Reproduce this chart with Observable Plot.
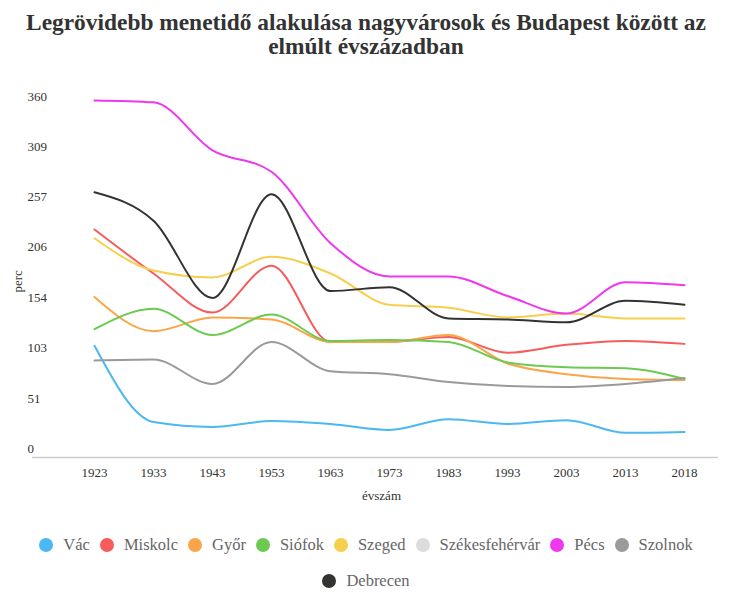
<!DOCTYPE html>
<html>
<head>
<meta charset="utf-8">
<script src="https://cdn.jsdelivr.net/npm/d3@7"></script>
<script src="https://cdn.jsdelivr.net/npm/@observablehq/plot@0.6"></script>
<style>
  body { margin: 0; background: #fff; width: 732px; font-family: "Liberation Serif", "DejaVu Serif", serif; }
  #title { text-align: center; font-family: "Liberation Serif", "DejaVu Serif", serif; font-weight: bold; font-size: 23.4px; line-height: 24px; color: #333; padding-top: 10px; height: 50px; }
  #chart { margin-top: 10px; height: 440px; }
  #chart svg { display: block; }
  #legend { margin-top: 17px; }
  .legend-row { display: flex; justify-content: center; align-items: center; height: 36px; font-size: 16.5px; color: #666; font-family: "Liberation Serif", "DejaVu Serif", serif; }
  .item { display: flex; align-items: center; margin: 0 5px; }
  .dot { width: 14px; height: 14px; border-radius: 50%; margin-right: 10px; }
</style>
</head>
<body>
<div id="title">Legrövidebb menetidő alakulása nagyvárosok és Budapest között az<br>elmúlt évszázadban</div>
<div id="chart"></div>
<div id="legend"></div>
<script>
const years = ["1923","1933","1943","1953","1963","1973","1983","1993","2003","2013","2018"];
const cities = ["Vác","Miskolc","Győr","Siófok","Szeged","Székesfehérvár","Pécs","Szolnok","Debrecen"];
const colors = ["#4bb8f2","#f65c5c","#f9a64a","#6dca50","#f6cf4c","#dcdcdc","#ee38ee","#9a9a9a","#333331"];
const yTicks = [0,51,103,154,206,257,309,360];

const vac      = [105, 27, 22, 28, 25, 19, 30, 25, 29, 16, 17];
const miskolc  = [224, 179, 139, 187, 109, 109, 114, 98, 106, 110, 107];
const gyor     = [155, 120, 134, 132, 109, 109, 116, 87, 76, 71, 70];
const siofok   = [122, 143, 116, 137, 110, 111, 109, 88, 83, 82, 71];
const szeged   = [215, 182, 175, 196, 179, 147, 144, 134, 138, 133, 133];
const szekesfehervar = [];
const pecs     = [356, 354, 305, 283, 210, 176, 176, 156, 138, 170, 167];
const szolnok  = [90, 91, 66, 109, 79, 76, 68, 64, 63, 66, 72];
const debrecen = [262, 233, 154, 260, 161, 165, 133, 132, 129, 151, 147];

const seriesValues = [vac, miskolc, gyor, siofok, szeged, szekesfehervar, pecs, szolnok, debrecen];
const rows = cities.flatMap((c, i) => seriesValues[i].map((v, j) => ({city: c, year: years[j], value: v})));

const chart = Plot.plot({
  width: 732,
  height: 440,
  marginLeft: 32,
  marginRight: 14,
  marginTop: 26,
  marginBottom: 62,
  style: {fontFamily: "'Liberation Serif', 'DejaVu Serif', serif", fontSize: "13px", color: "#333", background: "transparent"},
  x: {type: "point", domain: years, range: [90, 688], padding: 0},
  y: {domain: [0, 360]},
  color: {domain: cities, range: colors},
  marks: [
    Plot.ruleY([0], {stroke: "#cccccc", strokeWidth: 1.5, dy: 9}),
    Plot.axisY(yTicks, {anchor: "left", tickSize: 0, textAnchor: "start", dx: 4, label: null, fill: "#333"}),
    Plot.axisX({anchor: "bottom", tickSize: 0, tickPadding: 19, label: null, fill: "#333"}),
    Plot.line(rows, {x: "year", y: "value", z: "city", stroke: "city", curve: "monotone-x", strokeWidth: 2}),
    Plot.text(["perc"], {text: d => d, frameAnchor: "left", rotate: -90, dx: -15, dy: 20, fill: "#333", fontSize: 13}),
    Plot.text(["évszám"], {text: d => d, frameAnchor: "bottom", dx: 6, dy: 51, fill: "#333", fontSize: 13})
  ]
});
document.getElementById("chart").appendChild(chart);

const legend = document.getElementById("legend");
[cities.slice(0, 8), cities.slice(8)].forEach(group => {
  const row = document.createElement("div");
  row.className = "legend-row";
  group.forEach(c => {
    const item = document.createElement("div");
    item.className = "item";
    const dot = document.createElement("span");
    dot.className = "dot";
    dot.style.background = colors[cities.indexOf(c)];
    const label = document.createElement("span");
    label.textContent = c;
    item.appendChild(dot);
    item.appendChild(label);
    row.appendChild(item);
  });
  legend.appendChild(row);
});
</script>
</body>
</html>
